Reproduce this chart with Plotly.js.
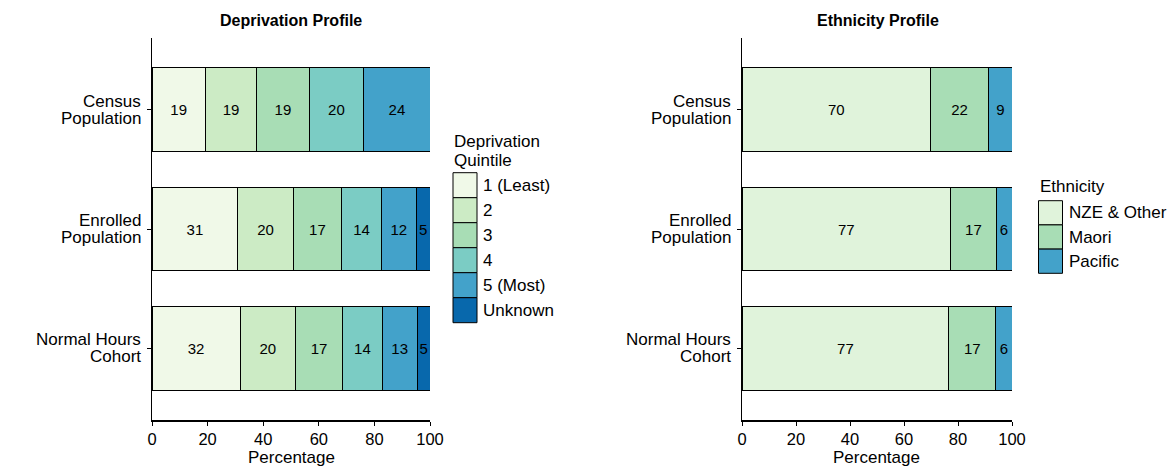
<!DOCTYPE html>
<html>
<head>
<meta charset="utf-8">
<script src="https://cdn.plot.ly/plotly-3.0.1.min.js"></script>
<style>
  html, body { margin: 0; padding: 0; background: #fff; }
  #chart { width: 1175px; height: 474px; }
</style>
</head>
<body>
<div id="chart"></div>
<script>
// ------------------------------------------------------------
// Deprivation + ethnicity profiles, stacked horizontal bars
// ------------------------------------------------------------

const categories = ['Census Population', 'Enrolled Population', 'Normal Hours Cohort'];
const catLine1 = ['Census', 'Enrolled', 'Normal Hours'];
const catLine2 = ['Population', 'Population', 'Cohort'];

// Deprivation quintiles (percent, per category)
const depGroups = ['1 (Least)', '2', '3', '4', '5 (Most)', 'Unknown'];
const depColors = ['#f0f9e8', '#ccebc5', '#a8ddb5', '#7bccc4', '#43a2ca', '#0868ac'];
const depQ1 = [19.2, 30.9, 31.7];
const depQ2 = [18.5, 19.9, 19.9];
const depQ3 = [18.8, 17.4, 17.0];
const depQ4 = [19.7, 14.4, 14.2];
const depQ5 = [23.8, 12.4, 12.6];
const depUnknown = [null, 5.0, 4.6];
const depValues = [depQ1, depQ2, depQ3, depQ4, depQ5, depUnknown];

// Ethnicity (percent, per category)
const ethGroups = ['NZE & Other', 'Maori', 'Pacific'];
const ethColors = ['#e0f3db', '#a8ddb5', '#43a2ca'];
const ethNZE = [69.8, 77.3, 76.6];
const ethMaori = [21.6, 16.8, 17.4];
const ethPacific = [8.6, 5.9, 6.0];
const ethValues = [ethNZE, ethMaori, ethPacific];

const W = 1175, H = 474;
const FONT = 'Liberation Sans, Arial, Helvetica, sans-serif';
const px = x => x / W;
const py = y => 1 - y / H;

function barTrace(vals, name, color, xa, ya) {
  return {
    type: 'bar',
    orientation: 'h',
    name: name,
    y: categories,
    x: vals,
    xaxis: xa,
    yaxis: ya,
    width: 0.7,
    marker: { color: color, line: { color: '#000', width: 1 } },
    text: vals.map(v => (v == null ? '' : String(Math.round(v)))),
    textposition: 'inside',
    insidetextanchor: 'middle',
    textangle: 0,
    constraintext: 'none',
    textfont: { family: FONT, size: 15, color: '#000' },
    hoverinfo: 'skip',
    showlegend: false
  };
}

const traces = [];
depValues.forEach((v, i) => traces.push(barTrace(v, depGroups[i], depColors[i], 'x', 'y')));
ethValues.forEach((v, i) => traces.push(barTrace(v, ethGroups[i], ethColors[i], 'x2', 'y2')));

const annotations = [];
const shapes = [];

function addText(text, x, y, size, anchor, bold) {
  annotations.push({
    text: bold ? '<b>' + text + '</b>' : text,
    xref: 'paper', yref: 'paper',
    x: px(x), y: py(y),
    xanchor: anchor, yanchor: 'middle',
    showarrow: false,
    font: { family: FONT, size: size, color: '#000' }
  });
}

// panel titles + axis titles
addText('Deprivation Profile', 291, 20.5, 16, 'center', true);
addText('Ethnicity Profile', 878, 20.5, 16, 'center', true);
addText('Percentage', 291, 457.5, 17, 'center', false);
addText('Percentage', 877, 457.5, 17, 'center', false);

// category labels, two tight lines each
[['x', 'y'], ['x2', 'y2']].forEach(([xa, ya]) => {
  categories.forEach((c, i) => {
    [[catLine1[i], 8.6], [catLine2[i], -8.6]].forEach(([t, s]) => {
      annotations.push({
        text: t,
        xref: xa + ' domain', yref: ya,
        x: 0, y: c,
        xanchor: 'right', yanchor: 'middle',
        xshift: -9, yshift: s,
        showarrow: false,
        font: { family: FONT, size: 17, color: '#000' }
      });
    });
  });
});

// legends drawn as swatches
function addLegend(title, groups, colors, x0, titleY, top, step) {
  title.forEach((t, k) => addText(t, x0 - 1, titleY + k * 18.5, 17, 'left', false));
  groups.forEach((g, i) => {
    const y0 = top + i * step;
    shapes.push({
      type: 'rect', xref: 'paper', yref: 'paper',
      x0: px(x0), x1: px(x0 + 24), y0: py(y0), y1: py(y0 + step),
      fillcolor: colors[i], line: { color: '#000', width: 1 }
    });
    addText(g, x0 + 28, y0 + step / 2, 17, 'left', false);
  });
}
addLegend(['Deprivation', 'Quintile'], depGroups, depColors, 453, 141.5, 172.7, 25);
addLegend(['Ethnicity'], ethGroups, ethColors, 1038.5, 186.5, 200.7, 24.2);

const xAxisBase = {
  range: [0, 100],
  tickvals: [0, 20, 40, 60, 80, 100],
  ticks: 'outside', ticklen: 4, tickwidth: 1, tickcolor: '#000',
  showline: true, linecolor: '#000', linewidth: 1.5,
  showgrid: false, zeroline: false,
  tickfont: { family: FONT, size: 16.5, color: '#000' },
  fixedrange: true
};
const yAxisBase = {
  type: 'category',
  categoryorder: 'array',
  categoryarray: categories,
  range: [2.6, -0.6],
  domain: [54 / H, 1 - 38 / H],
  ticks: 'outside', ticklen: 4, tickwidth: 1, tickcolor: '#000',
  showline: true, linecolor: '#000', linewidth: 1.5,
  showgrid: false, zeroline: false,
  showticklabels: false,
  fixedrange: true
};

const layout = {
  width: W, height: H,
  paper_bgcolor: '#fff',
  plot_bgcolor: '#fff',
  barmode: 'stack',
  showlegend: false,
  margin: { l: 0, r: 0, t: 0, b: 0 },
  font: { family: FONT, color: '#000' },
  xaxis: Object.assign({}, xAxisBase, { domain: [152 / W, 430 / W], anchor: 'y' }),
  xaxis2: Object.assign({}, xAxisBase, { domain: [742 / W, 1012 / W], anchor: 'y2' }),
  yaxis: Object.assign({}, yAxisBase, { anchor: 'x' }),
  yaxis2: Object.assign({}, yAxisBase, { anchor: 'x2' }),
  annotations: annotations,
  shapes: shapes
};

Plotly.newPlot('chart', traces, layout, { displayModeBar: false, staticPlot: true });
</script>
</body>
</html>
